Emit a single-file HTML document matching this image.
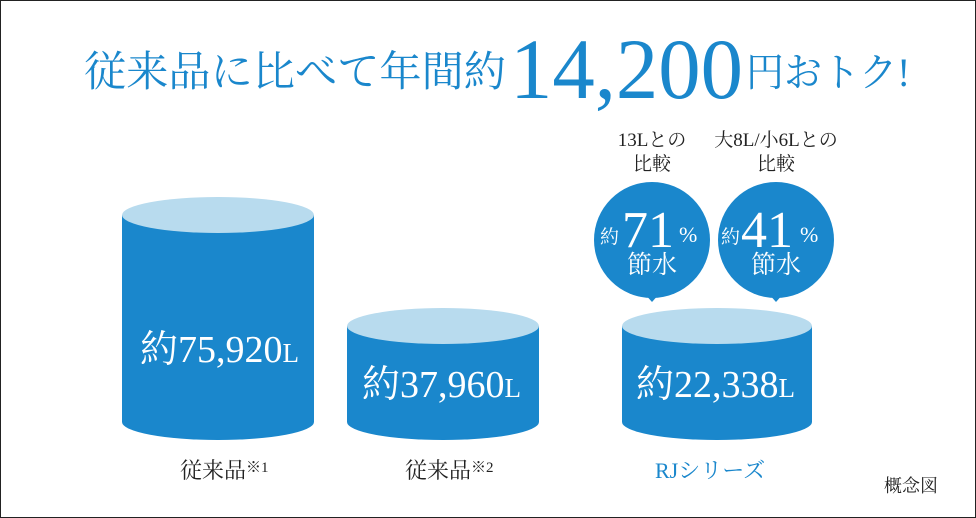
<!DOCTYPE html>
<html><head><meta charset="utf-8"><style>
html,body{margin:0;padding:0;background:#fff}
svg{display:block}
text{font-family:"Liberation Serif","Noto Serif CJK SC",serif}
</style></head><body>
<svg width="976" height="518" viewBox="0 0 976 518">
<rect x="0.5" y="0.5" width="975" height="517" fill="#fff" stroke="#222"/>
<text x="84" y="86" fill="#1a87cc" font-size="42" textLength="422" lengthAdjust="spacingAndGlyphs">従来品に比べて年間約</text>
<text x="510" y="98" fill="#1a87cc" font-size="86" textLength="233" lengthAdjust="spacingAndGlyphs">14,200</text>
<text x="746" y="86" fill="#1a87cc" font-size="40" textLength="164" lengthAdjust="spacingAndGlyphs">円おトク!</text>
<!-- cylinder 1 -->
<path d="M122 215 V422 A96 18 0 0 0 314 422 V215 Z" fill="#1a87cc"/>
<ellipse cx="218" cy="215" rx="96" ry="18" fill="#b8dbee"/>
<text x="140" y="362" fill="#fff" font-size="38">約75,920<tspan font-size="27">L</tspan></text>
<!-- cylinder 2 -->
<path d="M347 326 V422 A96 18 0 0 0 539 422 V326 Z" fill="#1a87cc"/>
<ellipse cx="443" cy="326" rx="96" ry="18" fill="#b8dbee"/>
<text x="362" y="397" fill="#fff" font-size="38">約37,960<tspan font-size="27">L</tspan></text>
<!-- cylinder 3 -->
<path d="M622 326 V422 A95 18 0 0 0 812 422 V326 Z" fill="#1a87cc"/>
<ellipse cx="717" cy="326" rx="95" ry="18" fill="#b8dbee"/>
<text x="636" y="397" fill="#fff" font-size="38">約22,338<tspan font-size="27">L</tspan></text>
<!-- labels -->
<text x="180" y="478" fill="#222" font-size="22">従来品<tspan font-size="15" dy="-6">※1</tspan></text>
<text x="405" y="478" fill="#222" font-size="22">従来品<tspan font-size="15" dy="-6">※2</tspan></text>
<text x="655" y="478" fill="#1a87cc" font-size="22">RJシリーズ</text>
<text x="884" y="492" fill="#222" font-size="18">概念図</text>
<!-- bubbles -->
<text x="652" y="146" fill="#222" font-size="19" text-anchor="middle">13Lとの</text>
<text x="652" y="170" fill="#222" font-size="19" text-anchor="middle">比較</text>
<text x="776" y="146" fill="#222" font-size="19" text-anchor="middle">大8L/小6Lとの</text>
<text x="776" y="170" fill="#222" font-size="19" text-anchor="middle">比較</text>
<circle cx="652" cy="240" r="58" fill="#1a87cc"/>
<path d="M644 293 L652 302 L660 293 Z" fill="#1a87cc"/>
<circle cx="776" cy="240" r="58" fill="#1a87cc"/>
<path d="M768 293 L776 302 L784 293 Z" fill="#1a87cc"/>
<text x="600" y="243" fill="#fff" font-size="19">約</text>
<text x="622" y="247" fill="#fff" font-size="52">71</text>
<text x="679" y="242" fill="#fff" font-size="22">%</text>
<text x="652" y="273" fill="#fff" font-size="25" text-anchor="middle">節水</text>
<text x="721" y="243" fill="#fff" font-size="19">約</text>
<text x="741" y="247" fill="#fff" font-size="52">41</text>
<text x="800" y="242" fill="#fff" font-size="22">%</text>
<text x="776" y="273" fill="#fff" font-size="25" text-anchor="middle">節水</text>
</svg>
</body></html>
